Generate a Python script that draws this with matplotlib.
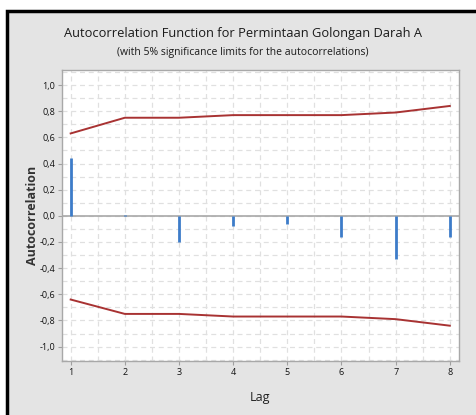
import matplotlib.pyplot as plt
from matplotlib.patches import Rectangle
from matplotlib.ticker import MultipleLocator, FixedFormatter, FixedLocator

plt.rcParams['font.family'] = ['Open Sans', 'DejaVu Sans']

# Data
lags = [1, 2, 3, 4, 5, 6, 7, 8]
acf = [0.44, 0.01, -0.20, -0.08, -0.06, -0.16, -0.33, -0.16]
upper = [0.63, 0.75, 0.75, 0.77, 0.77, 0.77, 0.79, 0.84]
lower = [-0.64, -0.75, -0.75, -0.77, -0.77, -0.77, -0.79, -0.84]
yticks = [1.0, 0.8, 0.6, 0.4, 0.2, 0.0, -0.2, -0.4, -0.6, -0.8, -1.0]
ylabels = ['1,0', '0,8', '0,6', '0,4', '0,2', '0,0', '-0,2', '-0,4', '-0,6', '-0,8', '-1,0']

W, H = 477, 415
fig = plt.figure(figsize=(W / 100, H / 100), dpi=100)
fig.patch.set_facecolor('white')

# grey panel with black frame
frame = Rectangle((7 / W, -0.02), 1.02, 1 - 11 / H + 0.02, transform=fig.transFigure,
                  facecolor='#e4e4e4', edgecolor='black', linewidth=2.5, zorder=-5)
fig.patches.append(frame)

ax = fig.add_axes([62 / W, 1 - 361 / H, (459 - 62) / W, (361 - 70) / H])
ax.set_zorder(2)
ax.set_facecolor('white')

# Grid
ax.xaxis.set_minor_locator(MultipleLocator(0.5))
ax.yaxis.set_minor_locator(MultipleLocator(0.1))
ax.grid(True, which='both', color='#e0e0e0', linestyle=(0, (4, 3)), linewidth=0.9)
ax.set_axisbelow(True)

ax.axhline(0, color='#a8a8a8', linewidth=1.2, zorder=2)
ax.vlines(lags, 0, acf, colors='#3d7cc9', linewidth=2, zorder=3)
ax.plot(lags, upper, color='#a83232', linewidth=1.4, zorder=4)
ax.plot(lags, lower, color='#a83232', linewidth=1.4, zorder=4)

ax.set_xlim(0.84, 8.17)
ax.set_ylim(-1.11, 1.115)
ax.set_xticks(lags)
ax.yaxis.set_major_locator(FixedLocator(yticks))
ax.yaxis.set_major_formatter(FixedFormatter(ylabels))
ax.tick_params(axis='both', which='major', labelsize=6.5, length=3, color='#a0a0a0',
               labelcolor='#111111', pad=2)
ax.tick_params(which='minor', length=0)
for s in ax.spines.values():
    s.set_color('#a8a8a8')
    s.set_linewidth(1.0)

ax.set_xlabel('Lag', fontsize=9, labelpad=10, color='#222222')
ax.set_ylabel('Autocorrelation', fontsize=9, fontweight='bold', labelpad=0, color='#333333')

fig.text(243 / W, 1 - 34 / H, 'Autocorrelation Function for Permintaan Golongan Darah A',
         ha='center', va='center', fontsize=9.3, color='#1a1a1a')
fig.text(243 / W, 1 - 53 / H, '(with 5% significance limits for the autocorrelations)',
         ha='center', va='center', fontsize=7.5, color='#1a1a1a')

fig.savefig('out.png', dpi=100)
